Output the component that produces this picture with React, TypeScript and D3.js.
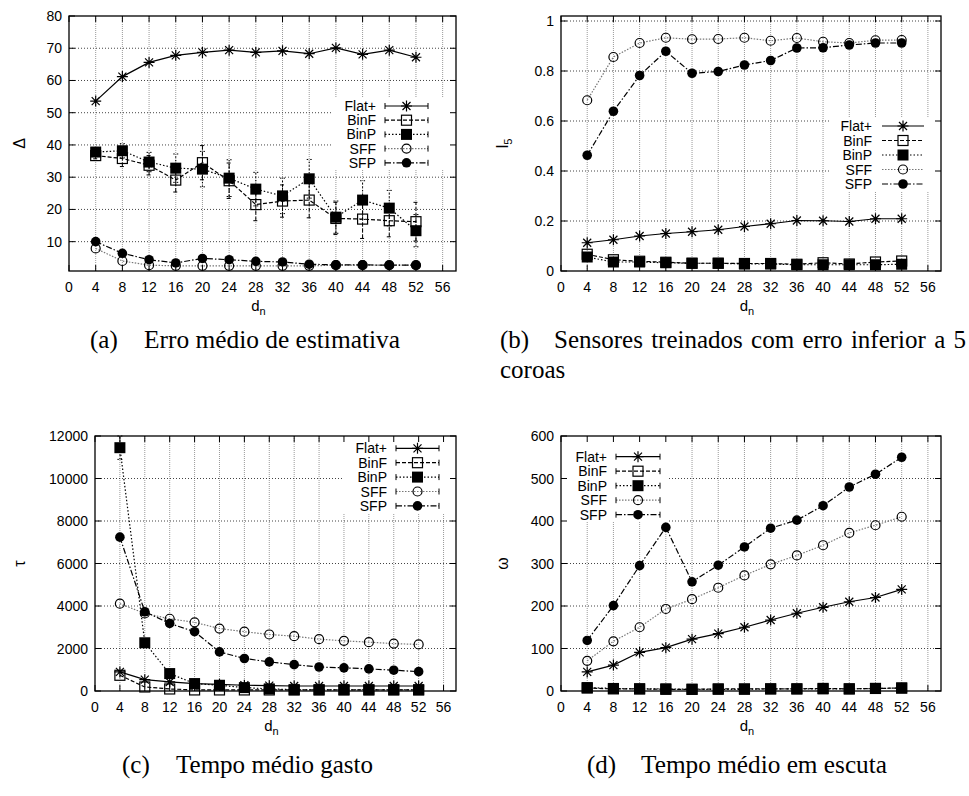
import { useEffect, useRef } from 'react';
import * as d3 from 'd3';

const dn = [4, 8, 12, 16, 20, 24, 28, 32, 36, 40, 44, 48, 52];
const xTicks = [0, 4, 8, 12, 16, 20, 24, 28, 32, 36, 40, 44, 48, 52, 56];
const names = ['Flat+', 'BinF', 'BinP', 'SFF', 'SFP'];

// (a) erro medio de estimativa
const aFlat = [53.6, 61.2, 65.6, 67.8, 68.7, 69.4, 68.7, 69.2, 68.3, 70.1, 68.1, 69.4, 67.2];
const aBinF = [36.7, 35.8, 33.7, 29.1, 34.5, 28.9, 21.5, 22.6, 22.9, 17.2, 17.0, 16.5, 16.2];
const aBinFErr = [1, 2.5, 3, 3.7, 5.3, 5.5, 5, 5, 5.5, 5, 6, 5, 6];
const aBinP = [37.8, 38.2, 34.7, 32.8, 32.5, 29.7, 26.3, 24.2, 29.5, 17.6, 22.9, 20.4, 13.4];
const aBinPErr = [1, 2.2, 3, 4.4, 5.5, 5.7, 5.2, 5.5, 6, 5, 6, 5.5, 5];
const aSFF = [7.9, 4.0, 2.7, 2.5, 2.5, 2.5, 2.5, 2.5, 2.5, 2.7, 2.7, 2.7, 2.7];
const aSFP = [10, 6.4, 4.4, 3.4, 4.8, 4.4, 3.9, 3.7, 3.0, 2.8, 2.8, 2.7, 2.7];

// (b) sensores com erro < 5 coroas
const bFlat = [0.113, 0.125, 0.14, 0.15, 0.157, 0.165, 0.178, 0.189, 0.202, 0.201, 0.198, 0.209, 0.209];
const bBinF = [0.067, 0.045, 0.039, 0.035, 0.031, 0.031, 0.03, 0.03, 0.027, 0.033, 0.028, 0.036, 0.04];
const bBinP = [0.056, 0.036, 0.036, 0.033, 0.031, 0.031, 0.028, 0.028, 0.025, 0.025, 0.025, 0.025, 0.027];
const bSFF = [0.683, 0.856, 0.912, 0.933, 0.927, 0.928, 0.933, 0.921, 0.932, 0.917, 0.912, 0.923, 0.924];
const bSFP = [0.463, 0.639, 0.782, 0.879, 0.791, 0.798, 0.824, 0.842, 0.892, 0.893, 0.904, 0.912, 0.912];

// (c) tempo medio gasto
const cFlat = [900, 535, 425, 345, 315, 270, 250, 235, 235, 235, 235, 235, 235];
const cBinF = [740, 190, 95, 50, 50, 50, 50, 50, 50, 50, 50, 50, 50];
const cBinP = [11450, 2270, 820, 350, 270, 160, 100, 60, 60, 60, 60, 60, 60];
const cBinPErr = [550, 0, 0, 0, 0, 0, 0, 0, 0, 0, 0, 0, 0];
const cSFF = [4110, 3650, 3400, 3230, 2940, 2790, 2660, 2580, 2440, 2360, 2300, 2230, 2190];
const cSFP = [7240, 3730, 3180, 2790, 1840, 1530, 1370, 1240, 1130, 1090, 1040, 980, 910];

// (d) tempo medio em escuta
const dFlat = [45, 61, 91, 102, 122, 135, 150, 167, 183, 197, 210, 220, 239];
const dBinF = [7, 5, 5, 4, 4, 5, 5, 5, 5, 6, 5, 6, 7];
const dBinP = [8, 6, 5, 5, 4, 4, 4, 5, 5, 5, 5, 6, 7];
const dSFF = [71, 117, 150, 193, 216, 243, 272, 298, 319, 343, 372, 390, 410];
const dSFP = [119, 201, 295, 385, 257, 296, 339, 383, 402, 436, 480, 510, 550];

const SANS = 'Liberation Sans, Arial, sans-serif';
const SERIF = 'Liberation Serif, Times New Roman, serif';

const styles: Record<string, { dash: string | null; color: string; marker: string }> = {
  'Flat+': { dash: null, color: '#000', marker: 'star' },
  BinF: { dash: '4,2', color: '#000', marker: 'osq' },
  BinP: { dash: '1.5,2', color: '#000', marker: 'fsq' },
  SFF: { dash: '1.5,1.5', color: '#777', marker: 'ocirc' },
  SFP: { dash: '6,2,1.5,2', color: '#000', marker: 'fcirc' },
};

type Series = { name: string; values: number[]; err?: number[] };
type Panel = {
  box: [number, number, number, number];
  yDomain: [number, number];
  yTicks: number[];
  yLabel: string;
  ySub?: string;
  ylX: number;
  series: Series[];
  keyBox: [number, number, number, number];
  keyY: number;
  keyStep: number;
  keyText: number;
  keyS: [number, number];
  caps: boolean;
};

const panels: Panel[] = [
  {
    box: [69, 16, 456, 271], yDomain: [0.9, 80], yTicks: [10, 20, 30, 40, 50, 60, 70, 80],
    yLabel: 'Δ', ylX: 20,
    series: [
      { name: 'Flat+', values: aFlat }, { name: 'BinF', values: aBinF, err: aBinFErr },
      { name: 'BinP', values: aBinP, err: aBinPErr }, { name: 'SFF', values: aSFF }, { name: 'SFP', values: aSFP },
    ],
    keyBox: [333, 98, 456, 170], keyY: 106, keyStep: 14.2, keyText: 376, keyS: [385, 428], caps: true,
  },
  {
    box: [561, 16, 941, 271], yDomain: [0, 1.02], yTicks: [0, 0.2, 0.4, 0.6, 0.8, 1],
    yLabel: 'l', ySub: '5', ylX: 503,
    series: [
      { name: 'Flat+', values: bFlat }, { name: 'BinF', values: bBinF }, { name: 'BinP', values: bBinP },
      { name: 'SFF', values: bSFF }, { name: 'SFP', values: bSFP },
    ],
    keyBox: [830, 118, 941, 192], keyY: 126, keyStep: 14.5, keyText: 872, keyS: [882, 924], caps: false,
  },
  {
    box: [95, 436, 456, 691], yDomain: [0, 12000], yTicks: [0, 2000, 4000, 6000, 8000, 10000, 12000],
    yLabel: 'τ', ylX: 20,
    series: [
      { name: 'Flat+', values: cFlat }, { name: 'BinF', values: cBinF }, { name: 'BinP', values: cBinP, err: cBinPErr },
      { name: 'SFF', values: cSFF }, { name: 'SFP', values: cSFP },
    ],
    keyBox: [342, 436, 456, 514], keyY: 448.3, keyStep: 14.4, keyText: 387, keyS: [396, 439], caps: true,
  },
  {
    box: [561, 436, 941, 691], yDomain: [0, 600], yTicks: [0, 100, 200, 300, 400, 500, 600],
    yLabel: 'ω', ylX: 503,
    series: [
      { name: 'Flat+', values: dFlat }, { name: 'BinF', values: dBinF }, { name: 'BinP', values: dBinP },
      { name: 'SFF', values: dSFF }, { name: 'SFP', values: dSFP },
    ],
    keyBox: [561, 436, 668, 522], keyY: 456.7, keyStep: 14.5, keyText: 607, keyS: [616, 660], caps: true,
  },
];

// caption: label, body, label x, body start, body end
const captions = [
  { label: '(a)', body: 'Erro médio de estimativa', lx: 90, bx: 144, ex: 400, y: 348, justify: false },
  { label: '(b)', body: 'Sensores treinados com erro inferior a 5', lx: 500, bx: 554, ex: 966, y: 348, justify: true },
  { label: '', body: 'coroas', lx: 500, bx: 500, ex: 0, y: 378, justify: false },
  { label: '(c)', body: 'Tempo médio gasto', lx: 122, bx: 176, ex: 373, y: 773, justify: false },
  { label: '(d)', body: 'Tempo médio em escuta', lx: 587, bx: 641, ex: 887, y: 773, justify: false },
];

function marker(g: d3.Selection<SVGGElement, unknown, null, undefined>, kind: string, x: number, y: number) {
  if (kind === 'star') {
    g.append('path').attr('d', `M${x - 5.5},${y}H${x + 5.5}M${x},${y - 5.5}V${y + 5.5}M${x - 4},${y - 4}L${x + 4},${y + 4}M${x - 4},${y + 4}L${x + 4},${y - 4}`)
      .attr('stroke', '#000').attr('stroke-width', 1.2).attr('fill', 'none');
  } else if (kind === 'osq') {
    g.append('rect').attr('x', x - 5).attr('y', y - 5).attr('width', 10).attr('height', 10)
      .attr('fill', 'none').attr('stroke', '#000').attr('stroke-width', 1.2);
  } else if (kind === 'fsq') {
    g.append('rect').attr('x', x - 5.5).attr('y', y - 5.5).attr('width', 11).attr('height', 11).attr('fill', '#000');
  } else if (kind === 'ocirc') {
    g.append('circle').attr('cx', x).attr('cy', y).attr('r', 4.5).attr('fill', 'none').attr('stroke', '#000').attr('stroke-width', 1.2);
  } else {
    g.append('circle').attr('cx', x).attr('cy', y).attr('r', 4.8).attr('fill', '#000');
  }
}

function drawPanel(svg: d3.Selection<SVGSVGElement, unknown, null, undefined>, p: Panel) {
  const [x0, y0, x1, y1] = p.box;
  const x = d3.scaleLinear().domain([0, 58]).range([x0, x1]);
  const y = d3.scaleLinear().domain(p.yDomain).range([y1, y0]);
  const g = svg.append('g');

  // grid
  const grid = g.append('g');
  xTicks.filter((t) => t > 0).forEach((t) => {
    grid.append('line').attr('x1', x(t)).attr('x2', x(t)).attr('y1', y0).attr('y2', y1)
      .attr('stroke', '#999').attr('stroke-width', 1).attr('stroke-dasharray', '1,1');
  });
  p.yTicks.filter((t) => y(t) > y0 + 0.5 && y(t) < y1 - 0.5).forEach((t) => {
    grid.append('line').attr('x1', x0).attr('x2', x1).attr('y1', y(t)).attr('y2', y(t))
      .attr('stroke', '#444').attr('stroke-width', 1).attr('stroke-dasharray', '1,2');
  });
  const [kx0, ky0, kx1, ky1] = p.keyBox;
  g.append('rect').attr('x', kx0).attr('y', ky0).attr('width', kx1 - kx0).attr('height', ky1 - ky0).attr('fill', '#fff');

  // border + tics
  g.append('rect').attr('x', x0).attr('y', y0).attr('width', x1 - x0).attr('height', y1 - y0)
    .attr('fill', 'none').attr('stroke', '#000').attr('stroke-width', 1.3);
  const tl = 6;
  xTicks.forEach((t) => {
    g.append('line').attr('x1', x(t)).attr('x2', x(t)).attr('y1', y1).attr('y2', y1 - tl).attr('stroke', '#000');
    g.append('line').attr('x1', x(t)).attr('x2', x(t)).attr('y1', y0).attr('y2', y0 + tl).attr('stroke', '#000');
    g.append('text').attr('x', x(t)).attr('y', y1 + 21).attr('text-anchor', 'middle')
      .attr('font-family', SANS).attr('font-size', 14).text(t);
  });
  p.yTicks.forEach((t) => {
    g.append('line').attr('x1', x0).attr('x2', x0 + tl).attr('y1', y(t)).attr('y2', y(t)).attr('stroke', '#000');
    g.append('line').attr('x1', x1).attr('x2', x1 - tl).attr('y1', y(t)).attr('y2', y(t)).attr('stroke', '#000');
    g.append('text').attr('x', x0 - 7).attr('y', y(t) + 5).attr('text-anchor', 'end')
      .attr('font-family', SANS).attr('font-size', 14).text(String(t));
  });

  // axis labels
  const xl = g.append('text').attr('x', (x0 + x1) / 2 - 4).attr('y', y1 + 40).attr('text-anchor', 'middle')
    .attr('font-family', SANS).attr('font-size', 15);
  xl.append('tspan').text('d');
  xl.append('tspan').attr('font-size', 11).attr('dy', 4).text('n');
  const ycy = (y0 + y1) / 2;
  const yl = g.append('text').attr('transform', `translate(${p.ylX + 5},${ycy}) rotate(-90)`).attr('text-anchor', 'middle')
    .attr('font-family', SANS).attr('font-size', 16);
  yl.append('tspan').text(p.yLabel);
  if (p.ySub) yl.append('tspan').attr('font-size', 11).attr('dy', 4).text(p.ySub);

  // series
  p.series.forEach((s) => {
    const st = styles[s.name];
    const sg = g.append('g');
    const line = d3.line<number>().x((_, i) => x(dn[i])).y((v) => y(v));
    sg.append('path').attr('d', line(s.values)).attr('fill', 'none').attr('stroke', st.color)
      .attr('stroke-width', 1.2).attr('stroke-dasharray', st.dash);
    if (s.err) {
      s.values.forEach((v, i) => {
        const e = s.err![i];
        if (!e) return;
        const cx = x(dn[i]);
        sg.append('path').attr('d', `M${cx},${y(v - e)}V${y(v + e)}M${cx - 2.5},${y(v - e)}H${cx + 2.5}M${cx - 2.5},${y(v + e)}H${cx + 2.5}`)
          .attr('fill', 'none').attr('stroke', st.color).attr('stroke-width', 1).attr('stroke-dasharray', st.dash);
      });
    }
    s.values.forEach((v, i) => marker(sg, st.marker, x(dn[i]), y(v)));
  });

  // key
  names.forEach((n, i) => {
    const st = styles[n];
    const ky = p.keyY + i * p.keyStep;
    g.append('text').attr('x', p.keyText).attr('y', ky + 5).attr('text-anchor', 'end')
      .attr('font-family', SANS).attr('font-size', 14).text(n);
    const [s1, s2] = p.keyS;
    g.append('line').attr('x1', s1).attr('x2', s2).attr('y1', ky).attr('y2', ky).attr('stroke', st.color)
      .attr('stroke-width', 1.2).attr('stroke-dasharray', st.dash);
    if (p.caps) {
      g.append('path').attr('d', `M${s1},${ky - 3}V${ky + 3}M${s2},${ky - 3}V${ky + 3}`).attr('stroke', '#000').attr('stroke-width', 1);
    }
    marker(g, st.marker, (s1 + s2) / 2, ky);
  });
}

export default function App() {
  const ref = useRef<SVGSVGElement | null>(null);
  useEffect(() => {
    const svg = d3.select(ref.current!);
    svg.selectAll('*').remove();
    svg.append('rect').attr('width', 969).attr('height', 796).attr('fill', '#fff');
    panels.forEach((p) => drawPanel(svg, p));
    captions.forEach((c) => {
      const t = (s: string, xx: number) => svg.append('text').attr('x', xx).attr('y', c.y)
        .attr('font-family', SERIF).attr('font-size', 25).text(s);
      if (c.label) t(c.label, c.lx);
      if (c.justify) {
        // first line of a wrapped caption: words spread between bx and ex
        const words = c.body.split(' ');
        const nodes = words.map((w) => t(w, 0));
        const widths = nodes.map((n) => (n.node() as SVGTextElement).getComputedTextLength());
        const gap = (c.ex - c.bx - d3.sum(widths)) / (words.length - 1);
        let cx = c.bx;
        nodes.forEach((n, i) => { n.attr('x', cx); cx += widths[i] + gap; });
      } else if (c.ex) {
        t(c.body, c.bx).attr('textLength', c.ex - c.bx).attr('lengthAdjust', 'spacingAndGlyphs');
      } else {
        t(c.body, c.bx);
      }
    });
  }, []);
  return <svg ref={ref} width={969} height={796} style={{ position: 'absolute', left: 0, top: 0 }} />;
}
